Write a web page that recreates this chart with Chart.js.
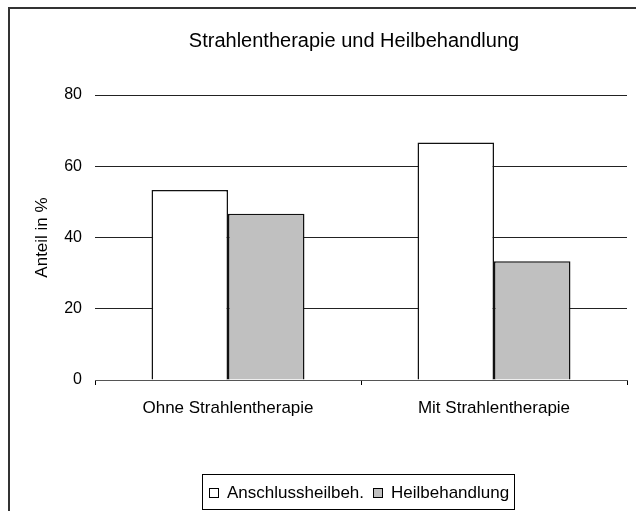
<!DOCTYPE html>
<html>
<head>
<meta charset="utf-8">
<script src="https://cdn.jsdelivr.net/npm/chart.js@4"></script>
<style>
  html, body { margin: 0; padding: 0; background: #fff; }
  #wrap { position: relative; width: 636px; height: 511px; }
</style>
</head>
<body>
<div id="wrap"><canvas id="c" width="636" height="511"></canvas></div>
<script>
const chartTitle = 'Strahlentherapie und Heilbehandlung';
const yAxisTitle = 'Anteil in %';
const categories = ['Ohne Strahlentherapie', 'Mit Strahlentherapie'];
const seriesNames = ['Anschlussheilbeh.', 'Heilbehandlung'];
const anschlussValues = [53.3, 66.7];
const heilValues = [46.7, 33.3];
const yTickValues = [0, 20, 40, 60, 80];

const FONT = '"Liberation Sans", Arial, sans-serif';
const fills = ['#ffffff', '#c0c0c0'];

const decoPlugin = {
  id: 'deco',
  beforeDraw(chart) {
    const ctx = chart.ctx;
    ctx.save();
    ctx.fillStyle = '#fff';
    ctx.fillRect(0, 0, chart.width, chart.height);
    ctx.strokeStyle = '#333';
    ctx.lineWidth = 2;
    ctx.strokeRect(9, 8, 1000, 1000);
    ctx.restore();
  },
  afterDraw(chart) {
    const ctx = chart.ctx;
    ctx.save();
    // title
    ctx.fillStyle = '#000';
    ctx.font = '20px ' + FONT;
    ctx.textAlign = 'center';
    ctx.textBaseline = 'middle';
    ctx.fillText(chartTitle, 354, 41);
    // legend
    ctx.strokeStyle = '#000';
    ctx.lineWidth = 1;
    ctx.strokeRect(202.5, 474.5, 312, 35);
    ctx.font = '17px ' + FONT;
    ctx.textAlign = 'left';
    const items = chart.data.datasets.map((d) => ({ label: d.label, color: d.backgroundColor }));
    const swX = [209, 373];
    items.forEach((it, i) => {
      ctx.fillStyle = it.color;
      ctx.fillRect(swX[i] + 0.5, 488.5, 9, 9);
      ctx.strokeRect(swX[i] + 0.5, 488.5, 9, 9);
      ctx.fillStyle = '#000';
      ctx.fillText(it.label, swX[i] + 18, 493);
    });
    ctx.restore();
  }
};

new Chart(document.getElementById('c'), {
  type: 'bar',
  data: {
    labels: categories,
    datasets: [
      { label: seriesNames[0], data: anschlussValues, backgroundColor: fills[0], borderColor: '#111', borderWidth: 1.5 },
      { label: seriesNames[1], data: heilValues, backgroundColor: fills[1], borderColor: '#111', borderWidth: 1.5 }
    ]
  },
  options: {
    responsive: false,
    animation: false,
    devicePixelRatio: 1,
    layout: { padding: { left: 0, top: 95, right: 9, bottom: 0 } },
    categoryPercentage: 0.575,
    barPercentage: 1,
    plugins: {
      legend: { display: false },
      title: { display: false },
      tooltip: { enabled: false }
    },
    scales: {
      x: {
        offset: true,
        grid: { drawOnChartArea: false, drawTicks: true, tickLength: 5, color: '#000', offset: true },
        border: { display: true, color: '#555', width: 1 },
        ticks: { color: '#000', font: { family: FONT, size: 17 }, padding: 13, maxRotation: 0 },
        afterFit(scale) { scale.height = 131; }
      },
      y: {
        min: 0,
        max: 80,
        afterBuildTicks(scale) { scale.ticks = yTickValues.map(v => ({ value: v })); },
        grid: { drawTicks: false, color: '#222', lineWidth: 1 },
        border: { display: false },
        ticks: { color: '#000', font: { family: FONT, size: 16 }, padding: 13 },
        title: { display: true, text: yAxisTitle, color: '#000', font: { family: FONT, size: 17 }, padding: { top: 32, bottom: 0 } },
        afterFit(scale) { scale.width = 95; }
      }
    }
  },
  plugins: [decoPlugin]
});
</script>
</body>
</html>
